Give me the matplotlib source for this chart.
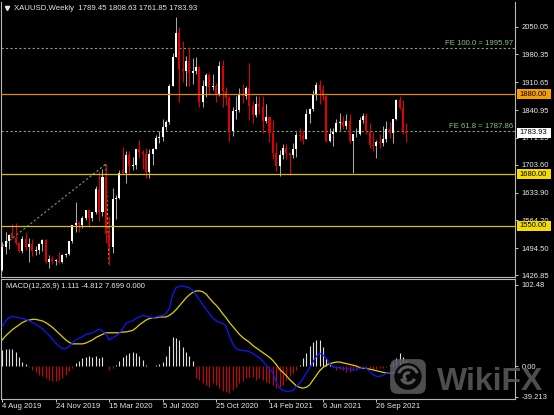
import numpy as np
import matplotlib
matplotlib.use('Agg')
import matplotlib.pyplot as plt
from matplotlib.patches import Rectangle, FancyBboxPatch, Circle, Arc
from matplotlib.transforms import blended_transform_factory

plt.rcParams['font.family'] = ['Liberation Sans', 'DejaVu Sans']

# weekly XAUUSD bars, bar 0 = week of 4 Aug 2019
opens = [1440, 1497, 1513, 1532, 1520, 1507, 1488, 1516, 1498, 1505, 1488, 1490, 1504, 1514, 1459, 1468, 1462, 1463, 1460, 1476, 1479, 1511,
         1552, 1557, 1552, 1571, 1589, 1570, 1584, 1643, 1585, 1674, 1530, 1498, 1618, 1620, 1690, 1683, 1727, 1700, 1703, 1743, 1735, 1730, 1685, 1730, 1743, 1771,
         1774, 1799, 1810, 1902, 1975, 2035, 1944, 1940, 1964, 1934, 1940, 1950, 1861, 1900, 1930, 1899, 1902, 1879, 1951, 1889, 1871, 1788, 1839, 1840, 1881, 1877,
         1895, 1850, 1828, 1856, 1848, 1813, 1824, 1784, 1734, 1700, 1727, 1745, 1732, 1728, 1744, 1777, 1775, 1769, 1832, 1843, 1881, 1903, 1891, 1877,
         1764, 1781, 1787, 1808, 1812, 1802, 1814, 1763, 1780, 1781, 1817, 1827, 1788, 1754, 1750, 1761, 1757, 1768, 1793, 1783, 1818, 1865, 1846, 1789.45]
highs = [1510, 1535, 1530, 1555, 1557, 1510, 1524, 1535, 1519, 1516, 1500, 1507, 1518, 1516, 1478, 1475, 1466, 1485, 1480, 1482, 1513, 1553,
         1611, 1563, 1575, 1591, 1591, 1584, 1649, 1689, 1692, 1703, 1576, 1645, 1627, 1690, 1748, 1738, 1738, 1722, 1744, 1765, 1740, 1745, 1744, 1746, 1779, 1789,
         1818, 1815, 1907, 1984, 2075, 2050, 2015, 1976, 2000, 1972, 1973, 1951, 1917, 1933, 1933, 1932, 1910, 1965, 1966, 1898, 1875, 1848, 1875, 1896, 1906, 1900,
         1959, 1864, 1875, 1875, 1875, 1855, 1824, 1816, 1760, 1740, 1755, 1755, 1733, 1758, 1785, 1797, 1790, 1843, 1845, 1890, 1912, 1916, 1903, 1878,
         1795, 1795, 1818, 1834, 1825, 1832, 1831, 1782, 1795, 1823, 1834, 1834, 1809, 1787, 1765, 1781, 1801, 1814, 1810, 1818, 1869, 1877, 1865, 1808.63]
lows = [1437, 1480, 1492, 1516, 1503, 1484, 1482, 1490, 1459, 1474, 1478, 1480, 1487, 1456, 1445, 1455, 1452, 1456, 1458, 1472, 1478, 1508,
        1536, 1536, 1546, 1564, 1547, 1562, 1581, 1562, 1576, 1506, 1451, 1483, 1567, 1617, 1680, 1659, 1677, 1690, 1692, 1720, 1693, 1670, 1671, 1704, 1742, 1757,
        1763, 1791, 1807, 1900, 1975, 1862, 1911, 1902, 1902, 1906, 1931, 1849, 1848, 1873, 1880, 1890, 1860, 1876, 1848, 1853, 1764, 1775, 1819, 1835, 1859, 1868,
        1817, 1808, 1824, 1831, 1784, 1808, 1761, 1717, 1687, 1676, 1719, 1719, 1678, 1721, 1723, 1764, 1756, 1768, 1808, 1838, 1866, 1855, 1866, 1761,
        1761, 1750, 1787, 1791, 1794, 1794, 1759, 1682, 1774, 1779, 1808, 1782, 1745, 1737, 1721, 1746, 1750, 1760, 1770, 1758, 1815, 1843, 1782, 1761.85]
closes = [1497, 1513, 1527, 1520, 1507, 1488, 1516, 1498, 1505, 1488, 1490, 1504, 1514, 1459, 1468, 1462, 1463, 1460, 1476, 1479, 1511, 1552,
          1557, 1552, 1571, 1589, 1570, 1584, 1643, 1585, 1674, 1530, 1498, 1618, 1620, 1683, 1683, 1727, 1700, 1703, 1743, 1735, 1730, 1685, 1730, 1743, 1771, 1774,
          1799, 1810, 1902, 1975, 2035, 1944, 1940, 1964, 1934, 1940, 1950, 1861, 1900, 1930, 1899, 1902, 1879, 1951, 1889, 1871, 1788, 1839, 1840, 1881, 1877, 1895,
          1850, 1828, 1856, 1848, 1813, 1824, 1784, 1734, 1700, 1727, 1745, 1732, 1728, 1744, 1777, 1775, 1769, 1832, 1843, 1881, 1903, 1891, 1877, 1764,
          1781, 1787, 1808, 1812, 1802, 1814, 1763, 1780, 1781, 1817, 1827, 1788, 1754, 1750, 1761, 1757, 1768, 1793, 1783, 1818, 1865, 1846, 1788, 1783.93]

# MACD(12,26,9) panel
macd_main = [50, 57, 61, 63, 62, 61, 60, 59, 57, 55, 53, 50, 47, 43, 39, 34, 29, 25, 22, 22, 25, 29,
             33, 35, 37, 40, 41, 42, 44, 47, 44, 41, 33, 36, 38, 41, 47, 54, 56, 57, 60, 62, 64, 63,
             62, 61, 62, 63, 64, 66, 73, 90, 99, 101, 101, 100, 99, 96, 90, 84, 78, 72, 66, 61, 57, 55,
             54, 50, 38, 28, 22, 20, 20, 19, 18, 16, 13, 10, 6, 1, -3, -9, -20, -28, -31, -32, -32, -31,
             -26, -22, -16, -9, -3, 5, 12, 16, 14, 10, 3, -1, -2, -2, -3, -3, -4, -5, -5, -3, -2, -3,
             -7, -11, -13, -13, -12, -9, -9, -7, -1, 7, 3, 1.1]
macd_signal = [33, 38, 42, 46, 49, 52, 55, 57, 58, 59, 59, 58, 57, 55, 52, 49, 45, 41, 37, 33, 30, 28,
               28, 28, 28, 29, 31, 33, 36, 38, 40, 42, 42, 42, 42, 42, 43, 43, 44, 45, 48, 52, 55, 58,
               60, 61, 61, 62, 62, 62, 64, 67, 71, 76, 81, 86, 90, 93, 95, 95, 94, 91, 86, 81, 77, 72,
               66, 61, 55, 50, 45, 40, 36, 33, 30, 26, 23, 20, 17, 14, 11, 7, 2, -4, -8, -12, -17, -21,
               -25, -27, -28, -27, -24, -18, -12, -6, -2, 1, 3, 4, 5, 5, 4, 3, 2, 1, 0, -2, -3, -3,
               -4, -5, -6, -7, -8, -9, -9, -9, -8, -7, -6, -4.8]
macd_hist = [20, 22, 22, 21, 18, 11, 5.5, 2, -1, -5, -7, -11, -13, -15.5, -17.6, -18.5, -19, -17.6, -15.5, -11, -6.3, -3,
             3.4, 6.7, 9.7, 11.8, 13, 11, 12.6, 9.7, 11.8, 0.5, -5, -3, 1, 6.7, 11, 14, 16, 18, 17, 12.6, 7.6, 1,
             -0.5, 0.5, 1, 2.5, 5.5, 12.6, 25, 37, 35, 33, 23.5, 18, 12.6, 6.7, -15.5, -17.6, -21, -24, -26, -22, -24, -28,
             -32, -33, -34, -30, -26, -22, -18.5, -15.5, -13.4, -14.3, -17.6, -15.5, -17.6, -19.7, -22, -24, -28, -26, -24, -18, -13, -9,
             -5, 1.3, 9.7, 17, 25, 30.7, 33, 33, 24, 9.7, 2, -1, -5, -4, -5, -7, -7, -5, -4, -3, -2, -1,
             -3, -5, -4, -3, -2, -1, 1.3, 5.5, 9.7, 16, 11, 7.7]

date_ticks = [0, 16, 32, 48, 64, 80, 96, 112]
date_labels = ['4 Aug 2019', '24 Nov 2019', '15 Mar 2020', '5 Jul 2020',
               '25 Oct 2020', '14 Feb 2021', '6 Jun 2021', '26 Sep 2021']
price_ticks = [2050.05, 1980.35, 1910.65, 1840.95, 1771.25, 1703.60, 1633.90, 1564.20, 1494.50, 1426.85]
macd_ticks = [102.48, 0.0, -39.213]
macd_tick_labels = ['102.48', '0.00', '-39.213']

levels = [1880.00, 1680.00, 1550.00]
level_line_colors = ['#e08a00', '#dcc000', '#dcc000']
level_box_colors = ['#f5a000', '#f5dc00', '#f5dc00']
fe_levels = [1995.97, 1787.86]
fe_names = ['FE 100.0', 'FE 61.8']
fe_bars = [-51, 31, 32]          # A, B, C of the expansion
fe_prices = [1160.4, 1705.2, 1451.17]
last_price = 1783.93

W, H = 554, 415
PX = 2.5098   # price units per pixel in the main panel


def px_axes(x0, y0, x1, y1):
    return [x0 / W, 1 - y1 / H, (x1 - x0) / W, (y1 - y0) / H]


fig = plt.figure(figsize=(W / 100, H / 100), dpi=100, facecolor='black')
ax = fig.add_axes(px_axes(1, 2, 515, 277), facecolor='black')
ax2 = fig.add_axes(px_axes(1, 279, 515, 399), facecolor='black', sharex=ax)

o, h, l, c = map(np.array, (opens, highs, lows, closes))
x = np.arange(len(c))
up = c >= o

# candles
ax.vlines(x[up], l[up], h[up], color='#a8a8a8', lw=0.75, zorder=3)
ax.vlines(x[~up], l[~up], h[~up], color='#e00000', lw=0.75, zorder=3)
body = np.maximum(np.abs(c - o), 1.5)
ax.bar(x[up], body[up], bottom=np.minimum(o, c)[up], width=0.6, color='white', lw=0, zorder=4)
ax.bar(x[~up], body[~up], bottom=np.minimum(o, c)[~up], width=0.6, color='#e00000', lw=0, zorder=4)

# fibo expansion
ax.plot(fe_bars[:2], fe_prices[:2], color='#5fa85f', lw=0.8, ls=(0, (2, 2)), zorder=2)
ax.plot(fe_bars[1:], fe_prices[1:], color='#d8c000', lw=0.8, ls=(0, (2, 2)), zorder=2)
for v, name in zip(fe_levels, fe_names):
    ax.axhline(v, color='#6fae6f', lw=0.8, ls=(0, (2, 2)), zorder=2)
    ax.text(1 - 2 / 514, v + 1.5 * PX, f'{name} = {v:.2f}', transform=blended_transform_factory(ax.transAxes, ax.transData),
            ha='right', va='bottom', fontsize=5.6, color='#80c880', zorder=5)

for v, lc in zip(levels, level_line_colors):
    ax.axhline(v, color=lc, lw=0.9, zorder=5)

ax.set_xlim((1 - 2.3) / 3.34, (515 - 2.3) / 3.34)
ax.set_ylim(2050.05 - (277 - 26.7) * PX, 2050.05 + (26.7 - 2) * PX)

ax.yaxis.tick_right()
ax.set_yticks(price_ticks)
ax.set_yticklabels([f'{v:.2f}' for v in price_ticks])
ax.tick_params(axis='y', colors='#c8c8c8', labelcolor='#e8e8e8', labelsize=5.5, length=2.5, width=0.7, pad=2)
ax.tick_params(axis='x', bottom=False, labelbottom=False)
for s in ['left', 'right', 'bottom']:
    ax.spines[s].set_color('#b8b8b8')
    ax.spines[s].set_linewidth(0.8)
ax.spines['top'].set_visible(False)

# price boxes on the scale
tr = blended_transform_factory(ax.transAxes, ax.transData)


def price_box(value, face):
    x0 = 1 + 1.5 / 514
    ax.add_patch(Rectangle((x0, value - 5 * PX), 34 / 514, 10 * PX, transform=tr, fc=face, ec='none',
                           clip_on=False, zorder=8))
    ax.text(x0 + 3 / 514, value, f'{value:.2f}', transform=tr, ha='left', va='center', fontsize=5.5,
            color='black', zorder=9, clip_on=False)


for v, bc in zip(levels, level_box_colors):
    price_box(v, bc)
price_box(last_price, 'white')

# title
fig.text(14 / W, 1 - 8.5 / H, 'XAUUSD,Weekly  1789.45 1808.63 1761.85 1783.93', fontsize=5.6,
         color='#e8e8e8', va='center', ha='left')
ax.plot([5.5 / 514], [1 - 6.5 / 275], marker='v', ms=3, color='#e8e8e8', transform=ax.transAxes, clip_on=False)

# MACD panel
hcol = np.where(np.array(macd_hist) >= 0, '#e0e0e0', '#d00000')
ax2.vlines(x, 0, macd_hist, colors=hcol, lw=0.8, zorder=2)
ax2.plot(x, macd_signal, color='#e0d000', lw=0.9, zorder=3)
ax2.plot(x, macd_main, color='#1414ff', lw=0.9, zorder=4)
ax2.set_ylim(-33 * 1.265, 87 * 1.265)
ax2.text(5 / 514, 1 - 7 / 120, 'MACD(12,26,9) 1.111 -4.812 7.699 0.000', transform=ax2.transAxes,
         fontsize=5.5, color='#e8e8e8', va='center', ha='left')

ax2.yaxis.tick_right()
ax2.set_yticks(macd_ticks)
ax2.set_yticklabels(macd_tick_labels)
ax2.tick_params(axis='y', colors='#c8c8c8', labelcolor='#e8e8e8', labelsize=5.5, length=2.5, width=0.7, pad=2)
ax2.set_xticks(date_ticks)
ax2.set_xticklabels(date_labels, ha='left')
ax2.tick_params(axis='x', colors='#c8c8c8', labelcolor='#e8e8e8', labelsize=5.6, length=2.5, width=0.7, pad=0.5)
for s in ax2.spines.values():
    s.set_color('#b8b8b8')
    s.set_linewidth(0.8)

# WikiFX watermark
logo = fig.add_axes(px_axes(389, 358, 427, 395))
logo.set_xlim(0, 1)
logo.set_ylim(0, 1)
logo.axis('off')
logo.add_patch(FancyBboxPatch((0.03, 0.03), 0.94, 0.94, boxstyle='round,pad=0,rounding_size=0.2',
                              fc='#5c5c5c', ec='none', alpha=0.85))
logo.add_patch(Circle((0.5, 0.5), 0.36, fc='black', ec='none', alpha=0.9))
for r, t1, t2 in [(0.26, 20, 160), (0.18, 200, 340), (0.1, 60, 250)]:
    logo.add_patch(Arc((0.5, 0.5), 2 * r, 2 * r, theta1=t1, theta2=t2, color='#5c5c5c', lw=2.2))
fig.text(437 / W, 1 - 390 / H, 'WikiFX', fontsize=23, fontweight='bold', color='#5c5c5c', alpha=0.85,
         va='baseline', ha='left')

fig.savefig('out.png', dpi=100, facecolor='black')
